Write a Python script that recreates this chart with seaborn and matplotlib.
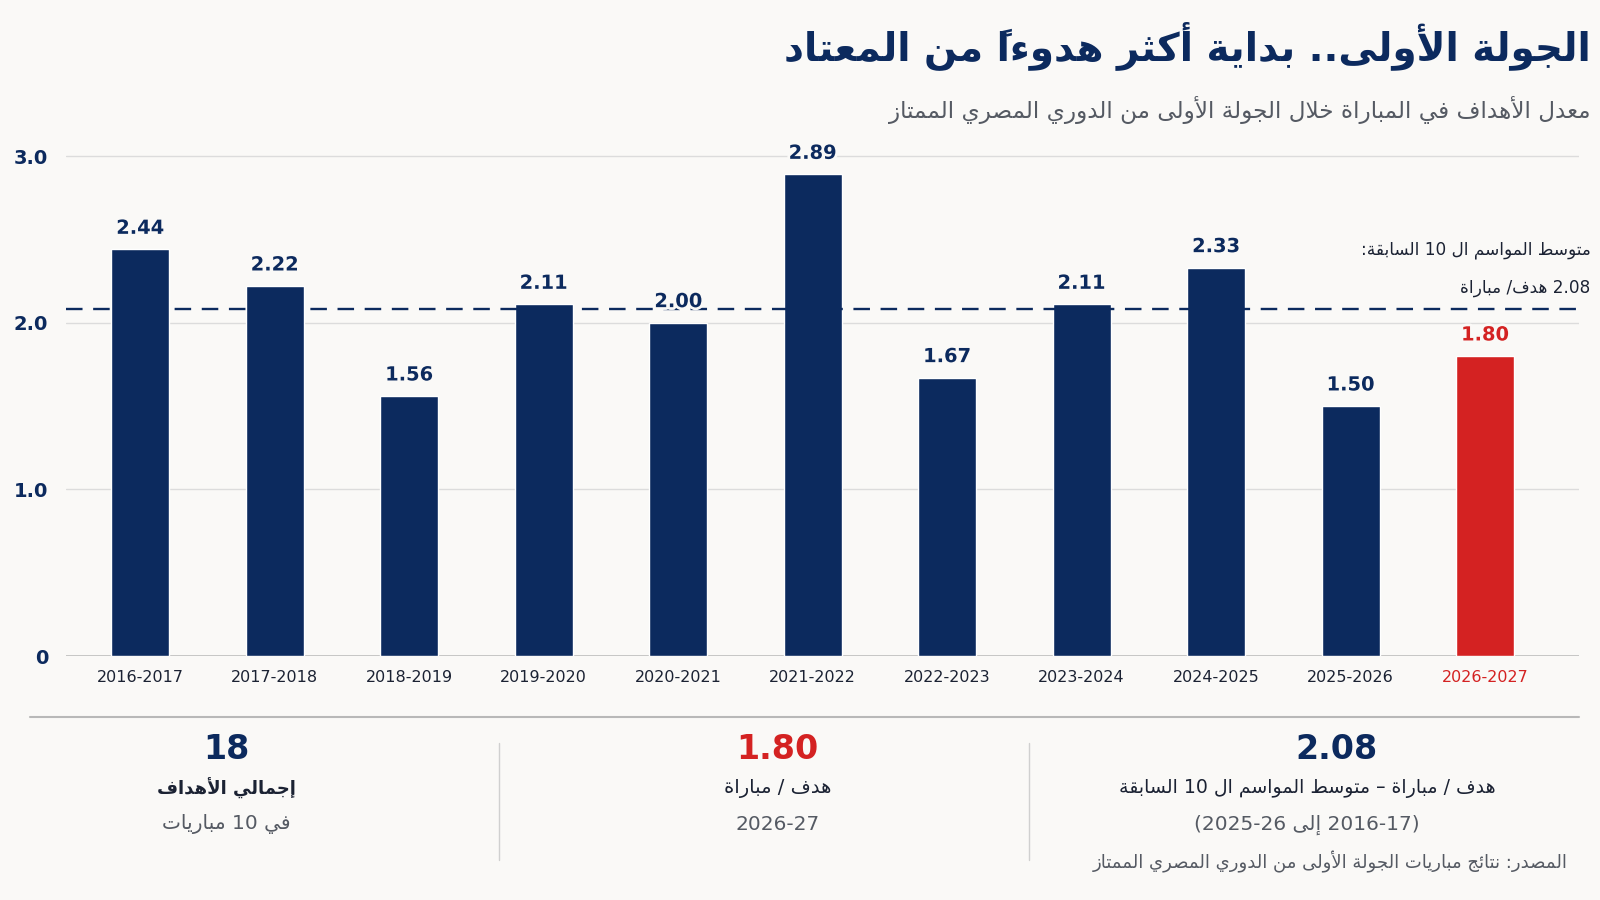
import re
import matplotlib
matplotlib.use("Agg")
import matplotlib.pyplot as plt
import matplotlib.patheffects as pe
from matplotlib.lines import Line2D
import seaborn as sns

# Data
seasons = ["2016-2017", "2017-2018", "2018-2019", "2019-2020", "2020-2021",
           "2021-2022", "2022-2023", "2023-2024", "2024-2025", "2025-2026", "2026-2027"]
goals_per_match = [2.44, 2.22, 1.56, 2.11, 2.00, 2.89, 1.67, 2.11, 2.33, 1.50, 1.80]
prev_avg = 2.08
current_avg = 1.80
total_goals = 18

NAVY = "#0c2a5e"
RED = "#d42222"
BG = "#faf9f7"
DARK = "#1b2233"
GRAY = "#555a63"

# Minimal Arabic shaping + visual ordering (matplotlib has no RTL layout)
AR = {0x0621: (0xFE80, 1), 0x0622: (0xFE81, 2), 0x0623: (0xFE83, 2), 0x0624: (0xFE85, 2),
      0x0625: (0xFE87, 2), 0x0626: (0xFE89, 4), 0x0627: (0xFE8D, 2), 0x0628: (0xFE8F, 4),
      0x0629: (0xFE93, 2), 0x062A: (0xFE95, 4), 0x062B: (0xFE99, 4), 0x062C: (0xFE9D, 4),
      0x062D: (0xFEA1, 4), 0x062E: (0xFEA5, 4), 0x062F: (0xFEA9, 2), 0x0630: (0xFEAB, 2),
      0x0631: (0xFEAD, 2), 0x0632: (0xFEAF, 2), 0x0633: (0xFEB1, 4), 0x0634: (0xFEB5, 4),
      0x0635: (0xFEB9, 4), 0x0636: (0xFEBD, 4), 0x0637: (0xFEC1, 4), 0x0638: (0xFEC5, 4),
      0x0639: (0xFEC9, 4), 0x063A: (0xFECD, 4), 0x0641: (0xFED1, 4), 0x0642: (0xFED5, 4),
      0x0643: (0xFED9, 4), 0x0644: (0xFEDD, 4), 0x0645: (0xFEE1, 4), 0x0646: (0xFEE5, 4),
      0x0647: (0xFEE9, 4), 0x0648: (0xFEED, 2), 0x0649: (0xFEEF, 2), 0x064A: (0xFEF1, 4)}
LAMALEF = {0x0622: 0xFEF5, 0x0623: 0xFEF7, 0x0625: 0xFEF9, 0x0627: 0xFEFB}
MIRROR = {"(": ")", ")": "("}
LTR = re.compile(r"[0-9A-Za-z]+(?:[.\-/:,][0-9A-Za-z]+)*")


def is_mark(c):
    return 0x064B <= ord(c) <= 0x0652


def shape(s):
    n = len(s)
    out, skip = [], set()
    for i, c in enumerate(s):
        if i in skip:
            continue
        o = ord(c)
        if o not in AR:
            out.append(c)
            continue
        p = i - 1
        while p >= 0 and is_mark(s[p]):
            p -= 1
        q = i + 1
        while q < n and is_mark(s[q]):
            q += 1
        po = ord(s[p]) if p >= 0 else None
        qo = ord(s[q]) if q < n else None
        base, k = AR[o]
        jp = k > 1 and po in AR and AR[po][1] == 4
        if o == 0x0644 and qo in LAMALEF:
            out.append(chr(LAMALEF[qo] + (1 if jp else 0)))
            skip.add(q)
            continue
        jn = k == 4 and qo in AR and AR[qo][1] > 1
        f = 3 if (jp and jn) else 1 if jp else 2 if jn else 0
        out.append(chr(base + f))
    return "".join(out)


def ar(s):
    s = shape(s)
    parts, pos = [], 0
    for m in LTR.finditer(s):
        parts.append(("r", s[pos:m.start()]))
        parts.append(("l", m.group()))
        pos = m.end()
    parts.append(("r", s[pos:]))
    res = []
    for kind, t in reversed(parts):
        if kind == "l":
            res.append(t)
        else:
            res.append("".join(MIRROR.get(ch, ch) for ch in reversed(t)))
    return "".join(res)


sns.set_theme(style="white")
plt.rcParams["font.family"] = ["DejaVu Sans"]

fig = plt.figure(figsize=(16, 9), dpi=100, facecolor=BG)
ax = fig.add_axes([0.0415, 0.271, 0.9455, 0.574])
ax.set_facecolor(BG)

colors = [NAVY] * (len(seasons) - 1) + [RED]
sns.barplot(x=seasons, y=goals_per_match, hue=seasons, palette=colors,
            legend=False, width=0.43, saturation=1, ax=ax)

ax.set_xlim(-0.55, 10.7)
ax.set_ylim(0, 3.1)
ax.set_yticks([0, 1, 2, 3], labels=["0", "1.0", "2.0", "3.0"])
for y in [1, 2, 3]:
    ax.axhline(y, color="#dcdcdc", lw=1, zorder=0)
ax.axhline(0, color="#bdbdbd", lw=1.2, zorder=0)
ax.axhline(prev_avg, color=NAVY, lw=1.7, ls=(0, (7, 4.5)), zorder=3)

for i, v in enumerate(goals_per_match):
    ax.text(i, v + 0.07, f"{v:.2f}", ha="center", va="bottom", fontsize=14,
            fontweight="bold", color=colors[i], zorder=5,
            path_effects=[pe.withStroke(linewidth=4, foreground=BG)])

sns.despine(ax=ax, left=True, bottom=True)
ax.tick_params(axis="y", length=0, pad=13, labelsize=14, labelcolor=NAVY)
ax.tick_params(axis="x", length=0, pad=10, labelsize=11.5, labelcolor=DARK)
for t in ax.get_yticklabels():
    t.set_fontweight("bold")
ax.get_xticklabels()[-1].set_color(RED)
ax.set_xlabel("")
ax.set_ylabel("")

# Title and subtitle
fig.text(0.994, 0.949, ar("الجولة الأولى.. بداية أكثر هدوءاً من المعتاد"), ha="right",
         va="center", fontsize=28, fontweight="bold", color=NAVY)
fig.text(0.994, 0.878, ar("معدل الأهداف في المباراة خلال الجولة الأولى من الدوري المصري الممتاز"),
         ha="right", va="center", fontsize=16.7, color=GRAY)

# Average annotation
fig.text(0.994, 0.722, ar("متوسط المواسم ال 10 السابقة:"), ha="right", va="center",
         fontsize=12.2, color=DARK)
fig.text(0.994, 0.680, ar(f"{prev_avg:.2f} هدف/ مباراة"), ha="right", va="center",
         fontsize=12.2, color=DARK)

# Bottom summary panel
fig.add_artist(Line2D([0.019, 0.987], [0.203, 0.203], color="#b8b8b8", lw=1.5))
for x in [0.312, 0.643]:
    fig.add_artist(Line2D([x, x], [0.044, 0.175], color="#d0d0d0", lw=1))

cols = [
    (0.1416, 0.1416, f"{total_goals}", NAVY, "إجمالي الأهداف", True, 13, "في 10 مباريات"),
    (0.486, 0.486, f"{current_avg:.2f}", RED, "هدف / مباراة", False, 14, "2026-27"),
    (0.835, 0.817, f"{prev_avg:.2f}", NAVY, "هدف / مباراة – متوسط المواسم ال 10 السابقة", False,
     13.6, "(2016-17 إلى 2025-26)"),
]
for xn, xt, big, c, lab, bold, fs, sub in cols:
    fig.text(xn, 0.167, big, ha="center", va="center", fontsize=24, fontweight="bold", color=c)
    fig.text(xt, 0.124, ar(lab), ha="center", va="center", fontsize=fs,
             fontweight="bold" if bold else "normal", color=DARK)
    fig.text(xt, 0.084, ar(sub), ha="center", va="center", fontsize=14.5, color=GRAY)

fig.text(0.980, 0.042, ar("المصدر: نتائج مباريات الجولة الأولى من الدوري المصري الممتاز"),
         ha="right", va="center", fontsize=13, color=GRAY)

fig.savefig("out.png", dpi=100, facecolor=BG)
